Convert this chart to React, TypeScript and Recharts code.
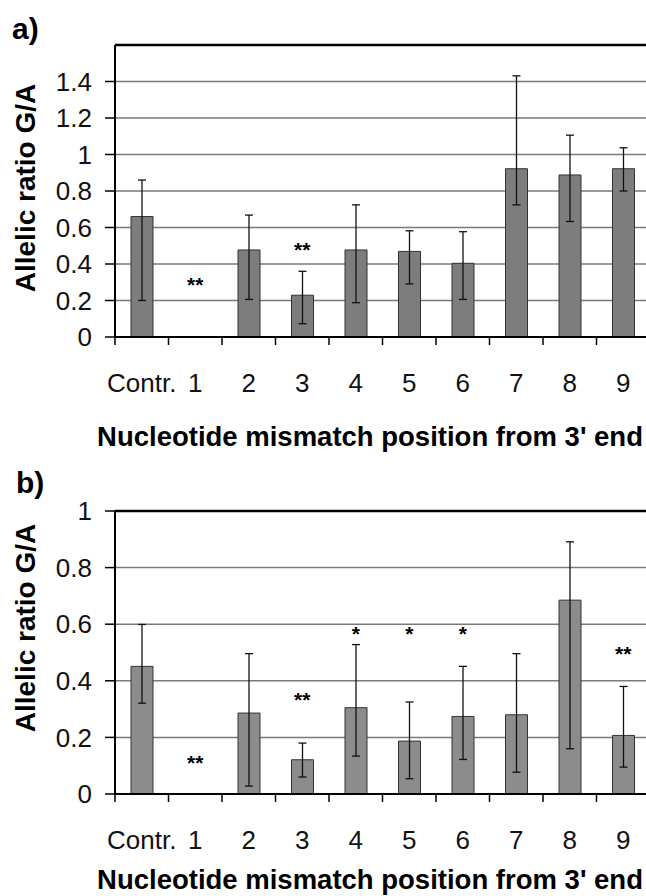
import React from 'react';
import { ComposedChart, Bar, ErrorBar, Scatter, XAxis, YAxis, CartesianGrid, ReferenceLine } from 'recharts';

const categories = ['Contr.', '1', '2', '3', '4', '5', '6', '7', '8', '9'];

// panel a
const valuesA = [0.66, 0, 0.477, 0.229, 0.477, 0.469, 0.404, 0.922, 0.888, 0.922];
const upperA = [0.86, 0.03, 0.668, 0.36, 0.724, 0.582, 0.577, 1.431, 1.106, 1.037];
const lowerA = [0.2, 0, 0.206, 0.073, 0.188, 0.291, 0.206, 0.724, 0.633, 0.8];
const starsA = ['', '**', '', '**', '', '', '', '', '', ''];
const starPosA = [null, 0.29, null, 0.48, null, null, null, null, null, null];
const ticksA = [0, 0.2, 0.4, 0.6, 0.8, 1, 1.2, 1.4];

// panel b
const valuesB = [0.451, 0, 0.286, 0.121, 0.305, 0.187, 0.274, 0.28, 0.685, 0.207];
const upperB = [0.599, 0, 0.496, 0.18, 0.528, 0.325, 0.451, 0.496, 0.891, 0.38];
const lowerB = [0.321, 0, 0.028, 0.06, 0.134, 0.054, 0.122, 0.077, 0.16, 0.095];
const starsB = ['', '**', '', '**', '*', '*', '*', '', '', '**'];
const starPosB = [null, 0.113, null, 0.333, 0.567, 0.567, 0.567, null, null, 0.496];
const ticksB = [0, 0.2, 0.4, 0.6, 0.8, 1];

const FONT = '"Liberation Sans", Arial, sans-serif';
const CHART_W = 660;
const Y_W = 115;
const M_RIGHT = 10;
const BAND = (CHART_W - Y_W - M_RIGHT) / categories.length;

const buildRows = (vals: number[], up: number[], lo: number[], stars: string[], starPos: (number | null)[]) =>
  categories.map((c, i) => ({
    pos: c,
    value: vals[i],
    err: [vals[i] - lo[i], up[i] - vals[i]],
    star: stars[i],
    starY: starPos[i],
  }));

const XTick = (props: any) => {
  const { x, y, payload, index } = props;
  const half = BAND / 2;
  return (
    <g>
      <line x1={x - half} x2={x - half} y1={y} y2={y + 8} stroke="#000" strokeWidth={1.5} />
      {index === categories.length - 1 && (
        <line x1={x + half} x2={x + half} y1={y} y2={y + 8} stroke="#000" strokeWidth={1.5} />
      )}
      <text x={x} y={y + 46} textAnchor="middle" dominantBaseline="central" fontSize={26} fontFamily={FONT} fill="#111">
        {payload.value}
      </text>
    </g>
  );
};

const StarShape = (props: any) => {
  const { cx, cy, payload } = props;
  if (!payload || !payload.star || cy == null || isNaN(cy)) return <g />;
  return (
    <text x={cx} y={cy} textAnchor="middle" dominantBaseline="central" fontSize={21} fontWeight="bold" fontFamily={FONT} fill="#000">
      {payload.star}
    </text>
  );
};

type PanelProps = {
  rows: any[];
  yMax: number;
  ticks: number[];
  height: number;
  marginTop: number;
  fill: string;
};

const Panel = ({ rows, yMax, ticks, height, marginTop, fill }: PanelProps) => (
  <ComposedChart width={CHART_W} height={height} data={rows} margin={{ top: marginTop, right: M_RIGHT, left: 0, bottom: 0 }}>
    <CartesianGrid vertical={false} stroke="#7a7a7a" strokeWidth={1.5} />
    <XAxis
      dataKey="pos"
      height={60}
      axisLine={{ stroke: '#000', strokeWidth: 2 }}
      tickLine={false}
      tickSize={0}
      tickMargin={0}
      interval={0}
      tick={<XTick />}
    />
    <YAxis
      width={Y_W}
      domain={[0, yMax]}
      ticks={ticks}
      interval={0}
      axisLine={{ stroke: '#000', strokeWidth: 2 }}
      tickLine={{ stroke: '#000', strokeWidth: 1.5 }}
      tickSize={10}
      tickMargin={13}
      tick={{ fontSize: 26, fill: '#111', fontFamily: FONT }}
    />
    <ReferenceLine y={yMax} stroke="#000" strokeWidth={2.5} />
    <Bar dataKey="value" fill={fill} stroke="#333" strokeWidth={1} barSize={22} isAnimationActive={false}>
      <ErrorBar dataKey="err" width={4} stroke="#111" strokeWidth={1.3} isAnimationActive={false} />
    </Bar>
    <Scatter dataKey="starY" shape={<StarShape />} isAnimationActive={false} />
  </ComposedChart>
);

const abs = (left: number, top: number): React.CSSProperties => ({ position: 'absolute', left, top });

const panelLabel: React.CSSProperties = { fontFamily: FONT, fontWeight: 'bold', fontSize: 30, color: '#000', lineHeight: 1 };
const yTitle: React.CSSProperties = {
  fontFamily: FONT,
  fontWeight: 'bold',
  fontSize: 28,
  whiteSpace: 'nowrap',
  transform: 'translate(-50%, -50%) rotate(-90deg)',
  color: '#000',
};
const xTitle: React.CSSProperties = {
  fontFamily: FONT,
  fontWeight: 'bold',
  fontSize: 27.5,
  whiteSpace: 'nowrap',
  transform: 'translate(-50%, -50%)',
  color: '#000',
};

export default function App() {
  const rowsA = buildRows(valuesA, upperA, lowerA, starsA, starPosA);
  const rowsB = buildRows(valuesB, upperB, lowerB, starsB, starPosB);
  return (
    <div style={{ position: 'absolute', left: 0, top: 0, width: 646, height: 896, overflow: 'hidden', background: '#fff' }}>
      <div style={abs(0, 0)}>
        <Panel rows={rowsA} yMax={1.6} ticks={ticksA} height={397} marginTop={45} fill="#7d7d7d" />
      </div>
      <div style={abs(0, 440)}>
        <Panel rows={rowsB} yMax={1} ticks={ticksB} height={414} marginTop={71} fill="#8c8c8c" />
      </div>
      <div style={{ ...abs(12, 14), ...panelLabel }}>a)</div>
      <div style={{ ...abs(16, 468), ...panelLabel }}>b)</div>
      <div style={{ ...abs(26, 188), ...yTitle }}>Allelic ratio G/A</div>
      <div style={{ ...abs(26, 628), ...yTitle }}>Allelic ratio G/A</div>
      <div style={{ ...abs(370, 437), ...xTitle }}>Nucleotide mismatch position from 3' end</div>
      <div style={{ ...abs(370, 880), ...xTitle }}>Nucleotide mismatch position from 3' end</div>
    </div>
  );
}
